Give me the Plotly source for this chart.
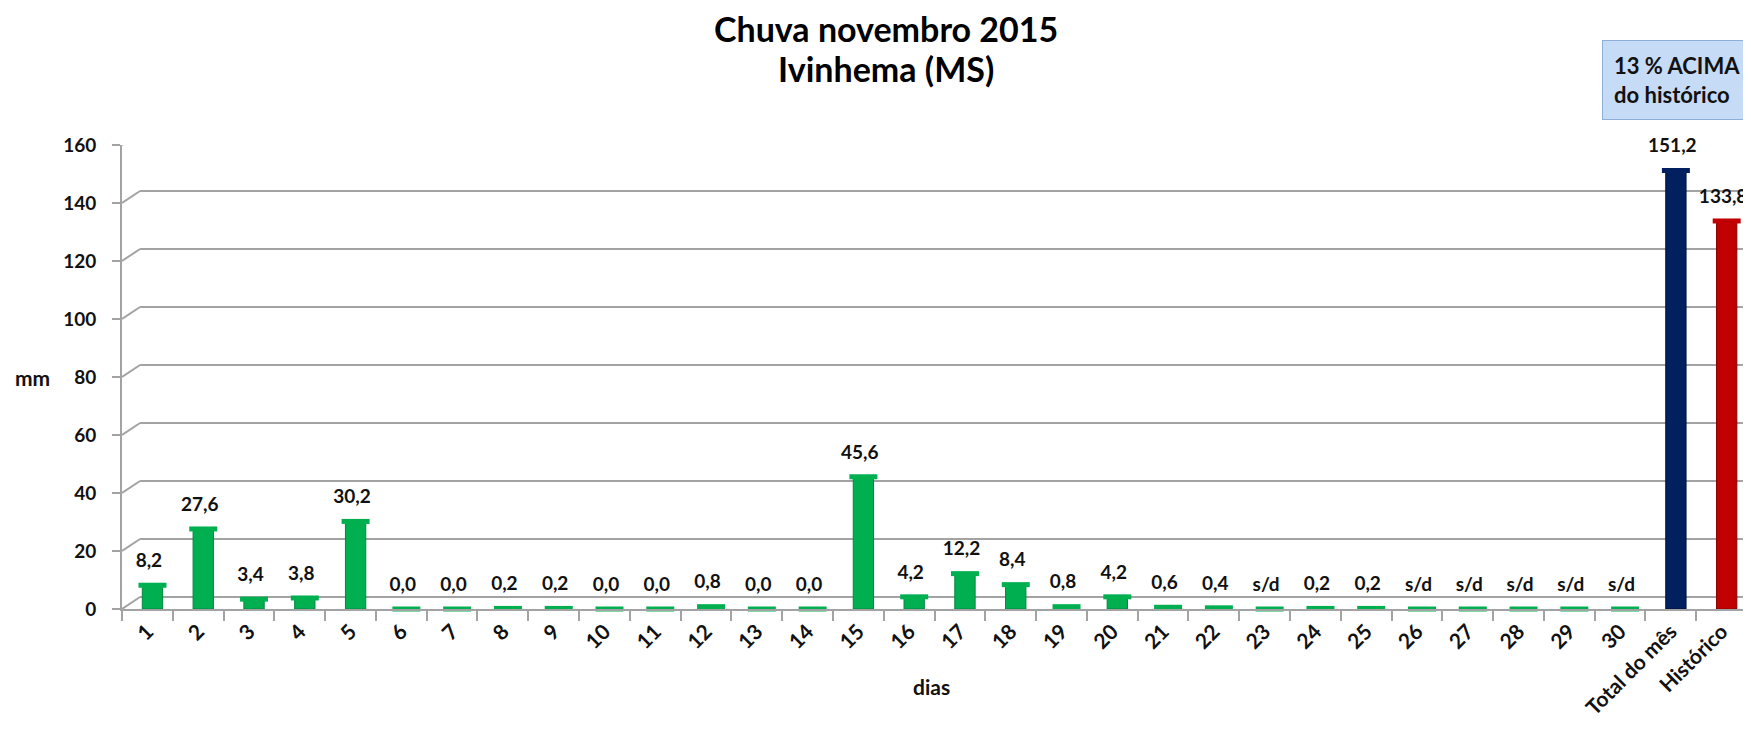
import plotly.graph_objects as go

# ---------------- data ----------------
categories = ["1", "2", "3", "4", "5", "6", "7", "8", "9", "10",
              "11", "12", "13", "14", "15", "16", "17", "18", "19", "20",
              "21", "22", "23", "24", "25", "26", "27", "28", "29", "30",
              "Total do mês", "Histórico"]
daily_mm = [8.2, 27.6, 3.4, 3.8, 30.2, 0.0, 0.0, 0.2, 0.2, 0.0,
            0.0, 0.8, 0.0, 0.0, 45.6, 4.2, 12.2, 8.4, 0.8, 4.2,
            0.6, 0.4, None, 0.2, 0.2, None, None, None, None, None]
total_mes = 151.2
historico = 133.8
y_ticks = [0, 20, 40, 60, 80, 100, 120, 140, 160]

# ---------------- styling ----------------
GREEN, GREEN_D = "#00B050", "#00873C"
NAVY, NAVY_D = "#002060", "#001235"
RED, RED_D = "#C00000", "#8A0000"
GRID = "#A3A3A3"
FONT = "Lato"
DEPTH = 0.1           # 3-D look: bars sit slightly behind the front axis
LABEL_DX = 0.03
BACK_DX, BACK_DY = 18, 12   # pixel offset of the back wall

values = daily_mm + [total_mes, historico]
plot_vals = [v if v is not None else 0 for v in values]
labels = ["s/d" if v is None else f"{v:.1f}".replace(".", ",") for v in values]
fill = [GREEN] * len(daily_mm) + [NAVY, RED]
edge = [GREEN_D] * len(daily_mm) + [NAVY_D, RED_D]
pos = list(range(len(categories)))
bar_x = [p + DEPTH for p in pos]
label_x = [p + LABEL_DX for p in pos]

fig = go.Figure()
fig.add_trace(go.Bar(
    x=bar_x, y=plot_vals, width=0.4,
    marker=dict(color=fill, line=dict(color=edge, width=1)),
    hoverinfo="skip", showlegend=False,
))
# cylinder caps
fig.add_trace(go.Scatter(
    x=bar_x, y=plot_vals, mode="markers",
    marker=dict(symbol="line-ew", size=20, line=dict(color=fill, width=5)),
    hoverinfo="skip", showlegend=False, cliponaxis=False,
))
# data labels
fig.add_trace(go.Scatter(
    x=label_x, y=plot_vals, mode="markers+text",
    marker=dict(symbol="line-ew", size=20,
                line=dict(color="rgba(0,0,0,0)", width=5)),
    text=labels, textposition="top center",
    textfont=dict(family=FONT, size=19, color="#111111", weight="bold"),
    hoverinfo="skip", showlegend=False, cliponaxis=False,
))

# 3-D wall gridlines (back wall) with diagonal connectors to the front axis
shapes = []
for v in y_ticks:
    shapes.append(dict(type="line", xref="x", yref="y",
                       xsizemode="pixel", xanchor=-0.5, x0=0, x1=BACK_DX,
                       ysizemode="pixel", yanchor=v, y0=0, y1=BACK_DY,
                       line=dict(color=GRID, width=2), layer="below"))
    shapes.append(dict(type="line", xref="x", yref="y",
                       xsizemode="pixel", xanchor=-0.5, x0=BACK_DX, x1=1700,
                       ysizemode="pixel", yanchor=v, y0=BACK_DY, y1=BACK_DY,
                       line=dict(color=GRID, width=2), layer="below"))

# the page body has an 8px default margin, so the figure is sized to fit
fig.update_layout(
    width=1743, height=722,
    margin=dict(l=114, r=4, t=137, b=121),
    paper_bgcolor="white", plot_bgcolor="white",
    font=dict(family=FONT, color="#111111"),
    shapes=shapes,
    xaxis=dict(range=[-0.5, len(categories) - 0.5],
               tickmode="array", tickvals=pos, ticktext=categories,
               tickangle=-45, ticks="",
               tickfont=dict(family=FONT, size=21, color="#111111", weight="bold"),
               showline=True, linecolor=GRID, linewidth=2,
               showgrid=False, zeroline=False,
               minor=dict(tickmode="linear", tick0=0.5, dtick=1,
                          ticks="outside", ticklen=10, tickwidth=2,
                          tickcolor=GRID, showgrid=False)),
    yaxis=dict(range=[0, 160], tickmode="array", tickvals=y_ticks,
               ticks="outside", ticklen=8, tickwidth=2, tickcolor=GRID,
               ticklabelstandoff=12,
               tickfont=dict(family=FONT, size=19, color="#111111", weight="bold"),
               showline=True, linecolor=GRID, linewidth=2,
               showgrid=False, zeroline=False),
    annotations=[
        dict(text="<b>Chuva novembro 2015</b>",
             xref="paper", yref="paper", x=0.470, y=1.252,
             xanchor="center", yanchor="middle", showarrow=False,
             font=dict(family=FONT, size=34, color="#000000")),
        dict(text="<b>Ivinhema (MS)</b>",
             xref="paper", yref="paper", x=0.470, y=1.164,
             xanchor="center", yanchor="middle", showarrow=False,
             font=dict(family=FONT, size=34, color="#000000")),
        dict(text="<b>mm</b>", xref="paper", yref="paper", x=0, y=0.5,
             xanchor="right", xshift=-70, showarrow=False,
             font=dict(family=FONT, size=21, color="#111111")),
        dict(text="<b>dias</b>", xref="paper", yref="paper", x=0.498, y=0,
             yanchor="middle", yshift=-77, showarrow=False,
             font=dict(family=FONT, size=21, color="#111111")),
        dict(text="<b>13 % ACIMA<br>do histórico</b>", xref="paper", yref="paper",
             x=0.911, y=1.226, xanchor="left", yanchor="top", align="left",
             showarrow=False, bgcolor="#C6DBF5", bordercolor="#8EAFD8",
             borderwidth=1, borderpad=11,
             font=dict(family=FONT, size=22, color="#111111")),
    ],
)

fig.write_html("out.html")
